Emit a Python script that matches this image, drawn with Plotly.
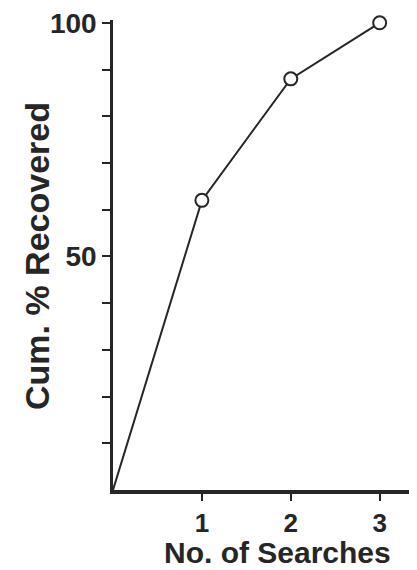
import plotly.graph_objects as go

searches = [0, 1, 2, 3]
cum_recovered = [0, 62, 88, 100]
y_tick_vals = [10, 20, 30, 40, 50, 60, 70, 80, 90, 100]
y_tick_text = ["", "", "", "", "<b>50</b>", "", "", "", "", "<b>100</b>"]
x_tick_vals = [1, 2, 3]
x_tick_text = ["<b>1</b>", "<b>2</b>", "<b>3</b>"]

ink = "#262626"
font_fam = "Liberation Sans, Arial, sans-serif"

# page body has an 8px margin, so the figure is offset by 8px
OFF = 8
W, H = 417 - OFF, 570 - OFF
L, T, B = 113 - OFF, 20 - OFF, 80

fig = go.Figure()
fig.add_trace(go.Scatter(
    x=searches, y=cum_recovered, mode="lines",
    line=dict(color=ink, width=2), showlegend=False, cliponaxis=False))
fig.add_trace(go.Scatter(
    x=searches[1:], y=cum_recovered[1:], mode="markers",
    marker=dict(symbol="circle", size=13, color="white",
                line=dict(color=ink, width=2)),
    showlegend=False, cliponaxis=False))

fig.update_layout(
    width=W, height=H,
    margin=dict(l=L, r=0, t=T, b=B, autoexpand=False),
    paper_bgcolor="white", plot_bgcolor="white",
    font=dict(family=font_fam, color=ink),
    xaxis=dict(range=[0, 3.42], tickvals=x_tick_vals, ticktext=x_tick_text,
               ticks="outside", ticklen=7, tickwidth=2, tickcolor=ink,
               showline=True, linewidth=3.5, linecolor=ink, showgrid=False,
               zeroline=False, ticklabeloverflow="allow",
               tickfont=dict(size=26, color=ink, family=font_fam)),
    yaxis=dict(range=[0, 100.6], tickvals=y_tick_vals, ticktext=y_tick_text,
               ticks="outside", ticklen=8, tickwidth=2, tickcolor=ink,
               showline=True, linewidth=2.5, linecolor=ink, showgrid=False,
               zeroline=False, ticklabeloverflow="allow",
               tickfont=dict(size=28, color=ink, family=font_fam)),
)

# titles placed by page-pixel centre, converted to paper coordinates
pw, ph = W - L, H - T - B
plot_left, plot_bottom = L + OFF, H - B + OFF


def to_paper(px, py):
    return (px - plot_left) / pw, (plot_bottom - py) / ph


tx, ty = to_paper(277, 552)
yx, yy = to_paper(37, 256)
fig.update_layout(annotations=[
    dict(text="<b>No. of Searches</b>", x=tx, y=ty, xref="paper", yref="paper",
         xanchor="center", yanchor="middle", showarrow=False,
         font=dict(size=30, color=ink, family=font_fam)),
    dict(text="<b>Cum. % Recovered</b>", x=yx, y=yy, xref="paper", yref="paper",
         xanchor="center", yanchor="middle", textangle=-90, showarrow=False,
         font=dict(size=34, color=ink, family=font_fam)),
])
fig.write_html("out.html")
